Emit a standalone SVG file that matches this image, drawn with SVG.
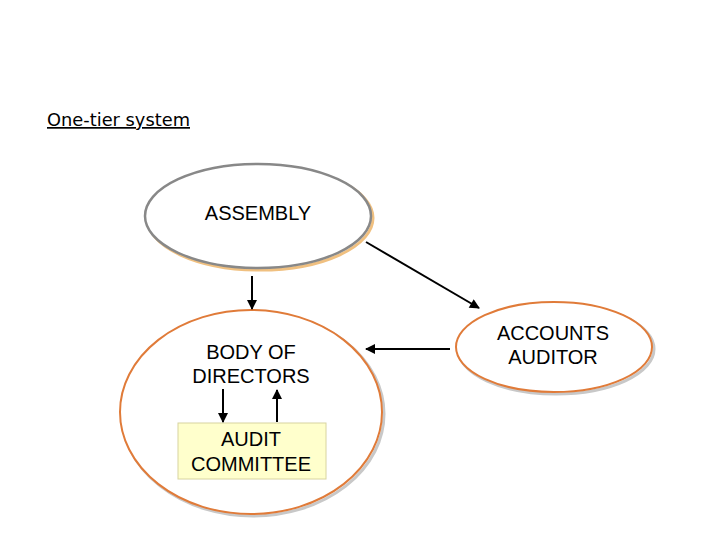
<svg xmlns="http://www.w3.org/2000/svg" width="720" height="540" viewBox="0 0 720 540">
<defs>
<style>
.t{font-family:"Liberation Sans",Arial,sans-serif;font-size:20px;fill:#000;text-anchor:middle}
.c{stroke:#000;stroke-width:2;fill:none;marker-end:url(#ah)}
</style>
<marker id="ah" viewBox="0 0 10 10" refX="9" refY="5" markerWidth="5.5" markerHeight="5" orient="auto" markerUnits="strokeWidth">
<path d="M0,0 L10,5 L0,10 z" fill="#000"/>
</marker>
</defs>
<rect width="720" height="540" fill="#fff"/>
<text x="47" y="126" font-family="DejaVu Sans,Verdana,sans-serif" font-size="17" textLength="143" lengthAdjust="spacingAndGlyphs" text-decoration="underline" fill="#000">One-tier system</text>
<g id="assembly">
<ellipse cx="260" cy="218" rx="113" ry="52" fill="none" stroke="#f0c080" stroke-width="3"/>
<ellipse cx="258" cy="216" rx="113" ry="52" fill="#fff" stroke="#888" stroke-width="2.5"/>
<text class="t" x="258" y="220">ASSEMBLY</text>
</g>
<g id="board">
<ellipse cx="253" cy="414" rx="131" ry="102" fill="none" stroke="#c8c8c8" stroke-width="3"/>
<ellipse cx="251" cy="412" rx="131" ry="102" fill="#fff" stroke="#e07b39" stroke-width="2"/>
<text class="t" x="251" y="359">BODY OF</text>
<text class="t" x="251" y="383">DIRECTORS</text>
</g>
<g id="committee">
<rect x="178" y="423" width="148" height="56" fill="#ffffcc" stroke="#d8d4a0" stroke-width="1"/>
<text class="t" x="251" y="446">AUDIT</text>
<text class="t" x="251" y="471">COMMITTEE</text>
</g>
<g id="auditor">
<ellipse cx="556" cy="349" rx="98" ry="45" fill="none" stroke="#c8c8c8" stroke-width="3"/>
<ellipse cx="554" cy="347" rx="98" ry="45" fill="#fff" stroke="#e07b39" stroke-width="2"/>
<text class="t" x="553" y="340">ACCOUNTS</text>
<text class="t" x="553" y="364">AUDITOR</text>
</g>
<g id="connectors">
<line class="c" x1="252" y1="276" x2="252" y2="309"/>
<line class="c" x1="366" y1="242" x2="479" y2="308"/>
<line class="c" x1="450" y1="349" x2="366" y2="349"/>
<line class="c" x1="223" y1="389" x2="223" y2="422"/>
<line class="c" x1="277" y1="422" x2="277" y2="390"/>
</g>
</svg>
